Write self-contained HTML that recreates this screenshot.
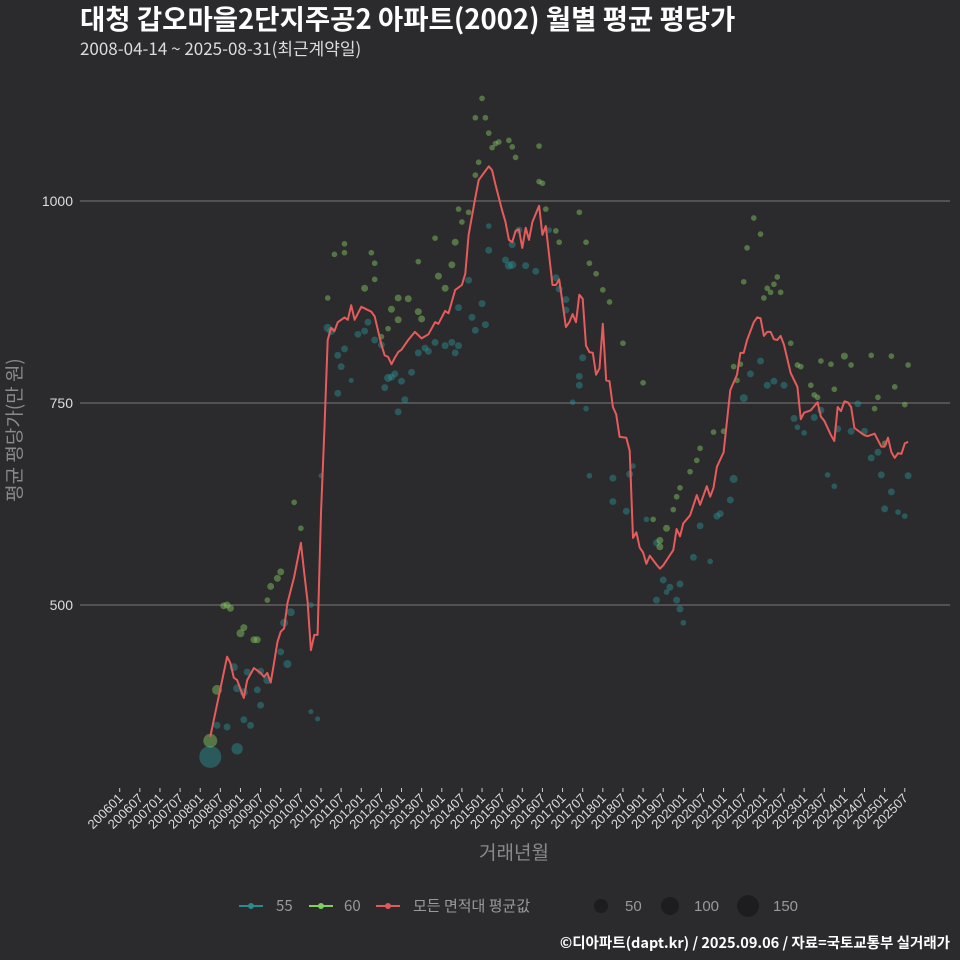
<!DOCTYPE html>
<html><head><meta charset="utf-8"><style>
html,body{margin:0;padding:0;background:#2b2a2c;}
svg{display:block;font-family:"Liberation Sans","Noto Sans CJK KR",sans-serif;}
</style></head><body>
<svg id="chart" width="960" height="960" viewBox="0 0 960 960" xmlns="http://www.w3.org/2000/svg">
<rect width="960" height="960" fill="#2b2a2c"/>
<text x="80" y="29" fill="#ffffff" font-size="27.5" font-weight="bold" style='font-family:"Noto Sans CJK KR",sans-serif'>대청 갑오마을2단지주공2 아파트(2002) 월별 평균 평당가</text>
<text x="80" y="55" fill="#dddddd" font-size="17" style='font-family:"Noto Sans CJK KR",sans-serif'>2008-04-14 ~ 2025-08-31(최근계약일)</text>
<g id="grid"></g>
<g id="yaxis"></g>
<g id="xaxis"></g>
<g id="dots"></g>
<g id="line"></g>
<text x="21" y="430" fill="#8a8a8a" font-size="19" text-anchor="middle" transform="rotate(-90 21 430)" style='font-family:"Noto Sans CJK KR",sans-serif'>평균 평당가(만 원)</text>
<text x="514" y="859" fill="#8a8a8a" font-size="19" text-anchor="middle" style='font-family:"Noto Sans CJK KR",sans-serif'>거래년월</text>
<g font-size="15" fill="#9a9a9a" style='font-family:"Noto Sans CJK KR",sans-serif'>
 <g><line x1="239" y1="906" x2="263" y2="906" stroke="#2a8a8c" stroke-width="2"/><circle cx="251" cy="906" r="3" fill="#2a8a8c"/><text x="276" y="911">55</text></g>
 <g><line x1="309" y1="906" x2="333" y2="906" stroke="#80d060" stroke-width="2"/><circle cx="321" cy="906" r="3" fill="#80d060"/><text x="344" y="911">60</text></g>
 <g><line x1="376" y1="906" x2="400" y2="906" stroke="#e05a5a" stroke-width="2"/><circle cx="388" cy="906" r="3" fill="#e05a5a"/><text x="413" y="911">모든 면적대 평균값</text></g>
</g>
<g font-size="15" fill="#9a9a9a">
 <circle cx="601" cy="906" r="7" fill="#1d1d1f"/><text x="625" y="911">50</text>
 <circle cx="670" cy="906" r="9" fill="#1d1d1f"/><text x="694" y="911">100</text>
 <circle cx="748" cy="906" r="11" fill="#1d1d1f"/><text x="773" y="911">150</text>
</g>
<text x="950" y="948" fill="#ffffff" font-size="14.5" font-weight="bold" text-anchor="end" style='font-family:"Noto Sans CJK KR",sans-serif'>©디아파트(dapt.kr) / 2025.09.06 / 자료=국토교통부 실거래가</text>
</svg>
<script>
// month index = months since 2006-01
const lineMonth = [27,32,33,34,35,37,38,40,42,43,44,45,46,47,48,49,50,52,54,55,56,57,58,59,60,61,62,63,64,65,67,68,69,70,72,75,76,78,79,80,81,82,83,84,86,88,90,92,94,95,97,98,100,102,103,104,106,107,110,111,112,114,115,116,117,118,119,120,121,122,123,125,126,127,129,130,131,133,134,135,136,137,138,139,140,141,142,143,144,145,146,147,148,149,151,152,153,154,155,156,157,158,160,161,162,165,166,167,168,170,172,173,175,176,177,178,180,182,184,185,186,187,189,190,191,192,193,194,195,196,197,198,200,202,203,204,206,208,209,210,212,213,214,215,216,217,218,219,220,222,223,225,227,228,229,230,231,232,233,234,235];
const lineValue = [337,436,428,410,407,385,407,422,416,411,416,404,428,454,467,471,502,535,577,540,504,444,463,463,614,717,828,843,839,850,856,853,871,853,869,863,857,822,809,807,798,806,813,816,828,838,830,835,850,848,864,861,890,896,910,958,1004,1026,1043,1038,1020,988,974,952,949,963,965,942,967,952,974,994,958,969,896,896,903,844,850,860,850,884,879,821,813,812,785,793,848,778,777,745,736,708,707,691,583,590,571,565,551,561,550,545,549,568,594,585,601,611,636,624,647,634,645,671,689,766,785,812,812,828,850,856,855,833,838,838,829,828,833,822,787,770,730,738,741,751,733,728,710,703,745,740,752,751,745,719,716,710,709,712,696,696,707,689,682,688,687,700,702];
const dotMonth55 = [27,35,29,32,37,39,35,37,34,38,41,42,44,42,48,50,49,51,57,57,59,60,62,63,65,67,65,66,69,71,73,74,76,78,79,80,81,82,83,84,85,87,89,91,92,94,97,99,100,101,104,101,105,106,108,109,110,110,115,116,117,117,119,121,124,128,130,131,133,133,137,137,138,135,139,140,147,147,151,152,153,157,160,162,163,164,167,166,160,167,168,171,173,176,178,179,182,183,186,188,191,193,195,198,201,202,204,207,209,211,213,214,218,220,222,224,226,227,228,230,232,234,235];
const dotValue55 = [312,322,351,349,358,351,397,392,423,417,395,418,407,376,442,427,478,491,500,368,359,660,843,839,809,817,762,795,778,835,839,850,828,822,769,781,782,786,739,777,754,788,812,818,814,825,821,825,812,821,902,868,856,840,873,847,939,969,927,920,921,946,964,920,913,964,905,891,878,865,783,772,806,751,743,660,628,657,616,662,672,606,577,531,516,522,526,506,506,495,478,559,598,554,610,613,630,656,756,786,802,772,777,772,731,720,713,732,741,661,647,718,715,749,715,682,689,661,619,640,615,610,660];
const dotCount55 = [150,40,15,15,15,15,20,20,20,15,15,15,20,15,15,20,20,20,10,8,8,8,20,20,15,15,15,15,8,15,15,15,15,15,15,20,15,15,15,15,15,15,15,15,15,15,15,15,15,15,15,15,15,15,15,15,15,10,15,20,20,15,15,15,15,10,15,15,15,15,15,15,15,10,10,10,15,15,15,15,10,10,15,15,10,15,15,15,15,15,10,15,15,10,15,15,15,20,20,15,15,15,15,15,15,10,10,15,15,10,10,15,15,15,15,15,15,15,15,15,10,10,15];
const dotMonth60 = [27,29,31,32,33,36,37,40,41,44,45,47,48,52,54,62,67,64,67,75,76,76,73,78,80,81,83,83,86,89,89,90,94,95,97,99,100,101,102,104,106,106,107,108,109,110,111,112,113,116,117,118,125,125,126,127,130,131,137,139,140,142,144,146,150,156,159,161,161,163,165,166,167,170,172,173,177,180,183,184,185,186,187,189,191,192,193,194,195,196,197,200,202,203,206,207,208,209,212,213,216,218,224,225,226,228,230,231,235,234];
const dotValue60 = [332,395,499,500,496,465,472,457,457,506,523,533,541,627,595,880,936,934,947,936,923,903,892,832,842,866,853,880,879,925,863,854,954,907,892,921,949,990,974,986,1032,1103,1048,1127,1103,1084,1066,1071,1073,1075,1067,1054,1068,1024,1022,990,963,949,986,949,923,910,890,875,824,775,606,580,572,595,618,634,645,665,679,694,714,715,795,778,798,900,942,979,959,880,892,887,897,906,887,824,797,795,772,760,757,802,798,767,808,797,809,743,757,700,808,770,797,748];
const dotCount60 = [60,30,15,15,15,20,15,15,15,10,15,15,15,10,10,10,10,10,10,10,10,10,15,10,10,15,15,15,15,10,15,15,10,15,15,15,15,10,10,10,10,10,10,10,10,10,10,10,10,10,10,10,10,10,10,10,10,10,10,10,10,10,10,10,10,10,10,15,15,15,10,10,10,10,10,10,10,10,10,10,10,10,10,10,10,10,10,10,10,10,10,10,10,10,10,10,10,10,10,10,15,10,10,10,10,10,10,10,10,10];
const yTicks = [500,750,1000];
const xTickLabels = [];
for (let y=2006;y<=2025;y++){ xTickLabels.push(y+'01'); xTickLabels.push(y+'07'); }

const NS='http://www.w3.org/2000/svg';
function xScale(m){ return 119.7 + m*3.355; }
function yScale(v){ return 201 + (1000-v)*0.808; }
function rScale(n){ return Math.sqrt(n)*0.9; }
function mk(tag, attrs, parent){ const e=document.createElementNS(NS,tag); for(const k in attrs) e.setAttribute(k,attrs[k]); parent.appendChild(e); return e; }

const grid=document.getElementById('grid'), yaxis=document.getElementById('yaxis'), xaxis=document.getElementById('xaxis');
yTicks.forEach(v=>{
  const l=mk('line',{x1:80,x2:950,y1:yScale(v),y2:yScale(v),stroke:'#7a7a7a','stroke-width':1},grid);
  
  
  const t=mk('text',{x:73,y:yScale(v)+5,fill:'#dddddd','font-size':14,'text-anchor':'end'},yaxis);
  t.textContent=v;
  
  
});
xTickLabels.forEach((lab,i)=>{
  if (i>39) return;
  const x=xScale(i*6);
  const tk=mk('line',{x1:x,x2:x,y1:788,y2:792,stroke:'#cccccc','stroke-width':1},xaxis);
  
  
  const t=mk('text',{x:x+4,y:799,fill:'#dddddd','font-size':13,'text-anchor':'end',transform:`rotate(-45 ${x+4} 799)`},xaxis);
  t.textContent=lab;
  
  
});
const dots=document.getElementById('dots');
function drawDots(ms,vs,ns,col,name){
  ms.forEach((m,i)=>{
    const c=mk('circle',{cx:xScale(m),cy:yScale(vs[i]),r:rScale(ns[i]),fill:col,'fill-opacity':0.5},dots);
    
    
  });
}
drawDots(dotMonth55,dotValue55,dotCount55,'#2a8a8c','point-55');
drawDots(dotMonth60,dotValue60,dotCount60,'#80c060','point-60');
const pts=lineMonth.map((m,i)=>xScale(m).toFixed(1)+','+yScale(lineValue[i]).toFixed(1)).join(' ');
const pl=mk('polyline',{points:pts,fill:'none',stroke:'#e65c5c','stroke-width':2,'stroke-linejoin':'round'},document.getElementById('line'));


</script>
</body></html>
